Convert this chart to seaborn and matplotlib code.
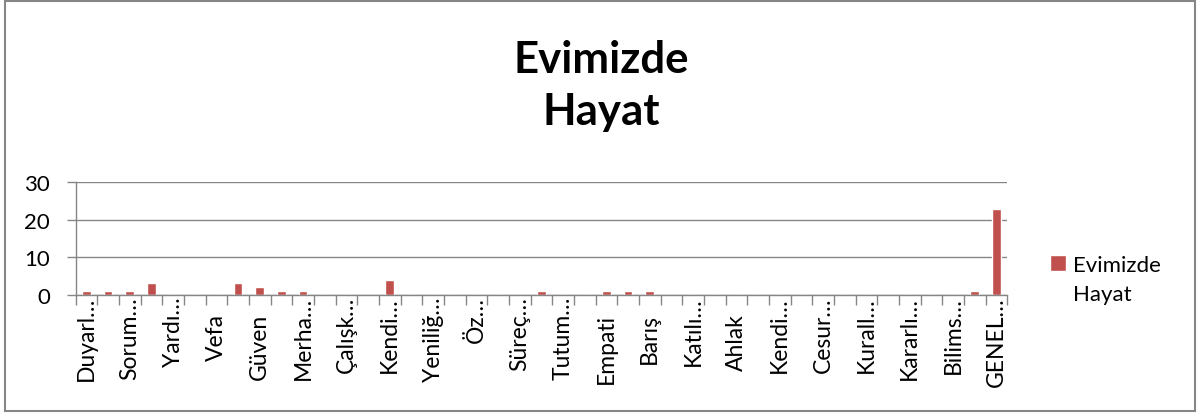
import matplotlib
matplotlib.use("Agg")
import matplotlib.pyplot as plt
import matplotlib.transforms as mtransforms
from matplotlib.patches import Rectangle
import pandas as pd
import seaborn as sns

# values (degerler) on the x axis, in chart order
categories = [
    "Duyarlılık", "Sevgi", "Sorumluluk", "Saygı", "Yardımseverlik", "Dostluk",
    "Vefa", "Dürüstlük", "Güven", "Hoşgörü", "Merhamet", "Sabır",
    "Çalışkanlık", "Paylaşım", "Kendine güven", "Adalet", "Yenilikçilik",
    "Temizlik", "Özdenetim", "Estetik", "Süreç odaklılık", "Aile birliği",
    "Tutumluluk", "İşbirliği", "Empati", "Nezaket", "Barış", "Sadakat",
    "Katılımcılık", "Alçakgönüllülük", "Ahlak", "Özgürlük",
    "Kendini ifade etme", "Merak", "Cesurluk", "Vatanseverlik",
    "Kurallara uyma", "Sağlıklı yaşam", "Kararlılık", "İyilik",
    "Bilimsellik", "Doğa sevgisi", "GENEL TOPLAM",
]
counts = [
    1, 1, 1, 3, 0, 0, 0, 3, 2, 1, 1, 0, 0, 0, 4, 0, 0, 0, 0, 0, 0, 1,
    0, 0, 1, 1, 1, 0, 0, 0, 0, 0, 0, 0, 0, 0, 0, 0, 0, 0, 0, 1, 23,
]
# excel only shows every other label, truncated
shown_labels = [
    "Duyarl…", "Sorum…", "Yardı…", "Vefa", "Güven", "Merha…", "Çalışk…",
    "Kendi…", "Yeniliğ…", "Öz…", "Süreç…", "Tutum…", "Empati", "Barış",
    "Katılı…", "Ahlak", "Kendi…", "Cesur…", "Kurall…", "Kararlı…",
    "Bilims…", "GENEL…",
]
series_name = "Evimizde\nHayat"
chart_title = "Evimizde\nHayat"

sns.set_theme(style="white")
plt.rcParams["font.family"] = ["Lato", "DejaVu Sans"]
plt.rcParams["text.color"] = "black"

GRAY = "#868686"
RED = "#C0504D"

df = pd.DataFrame({"deger": categories, "sayi": counts})

fig = plt.figure(figsize=(12.03, 4.14), dpi=100)
ax = fig.add_axes([0.0629, 0.2857, 0.7744, 0.2715])

sns.barplot(data=df, x="deger", y="sayi", color=RED, width=0.4,
            saturation=1, label=series_name, ax=ax)

ax.set_xlabel("")
ax.set_ylabel("")
ax.set_ylim(0, 30)
ax.set_yticks([0, 10, 20, 30])
ax.set_xlim(-0.5, len(categories) - 0.5)

# tick marks between categories, labels on every other category
ax.set_xticks([i - 0.5 for i in range(len(categories) + 1)], labels=[])
ax.set_xticks(list(range(0, len(categories), 2)), labels=shown_labels, minor=True)
ax.tick_params(axis="x", which="major", direction="out", length=7,
               width=1, color=GRAY, bottom=True)
ax.tick_params(axis="x", which="minor", length=0, pad=1,
               labelsize=16.5, labelrotation=90, labelcolor="black")
ax.tick_params(axis="y", direction="out", length=6.5, width=1, color=GRAY,
               left=True, pad=12, labelsize=16, labelcolor="black")

# untruncated labels sit a bit lower than the cut ones in the original
shift = mtransforms.ScaledTranslation(0, -17 / 100, fig.dpi_scale_trans)
for lab in ax.get_xticklabels(minor=True):
    if not lab.get_text().endswith("…"):
        lab.set_transform(lab.get_transform() + shift)

ax.set_axisbelow(True)
ax.yaxis.grid(True, color=GRAY, lw=1)
for side in ["top", "right"]:
    ax.spines[side].set_visible(False)
for side in ["left", "bottom"]:
    ax.spines[side].set_color(GRAY)
    ax.spines[side].set_linewidth(1)

fig.suptitle(chart_title, x=0.5, y=1 - 40 / 414, va="top", color="black",
             fontsize=31.5, fontweight="bold", linespacing=1.35)

leg = ax.legend(loc="upper left", bbox_to_anchor=(1050 / 1203, 1 - 256 / 414),
                bbox_transform=fig.transFigure, frameon=False, fontsize=16,
                handlelength=0.7, handleheight=0.7, handletextpad=0.35,
                borderpad=0, borderaxespad=0)
leg.get_texts()[0].set_linespacing(1.55)
# square sits next to the first line of the wrapped label
for row in leg._legend_handle_box.get_children():
    for entry in row.get_children():
        entry.align = "top"

# outer chart frame
fig.add_artist(Rectangle((5 / 1203, 2 / 414), 1190 / 1203, 410 / 414,
                         transform=fig.transFigure, fill=False,
                         edgecolor=GRAY, lw=1.5))

fig.savefig("out.png", dpi=100)
